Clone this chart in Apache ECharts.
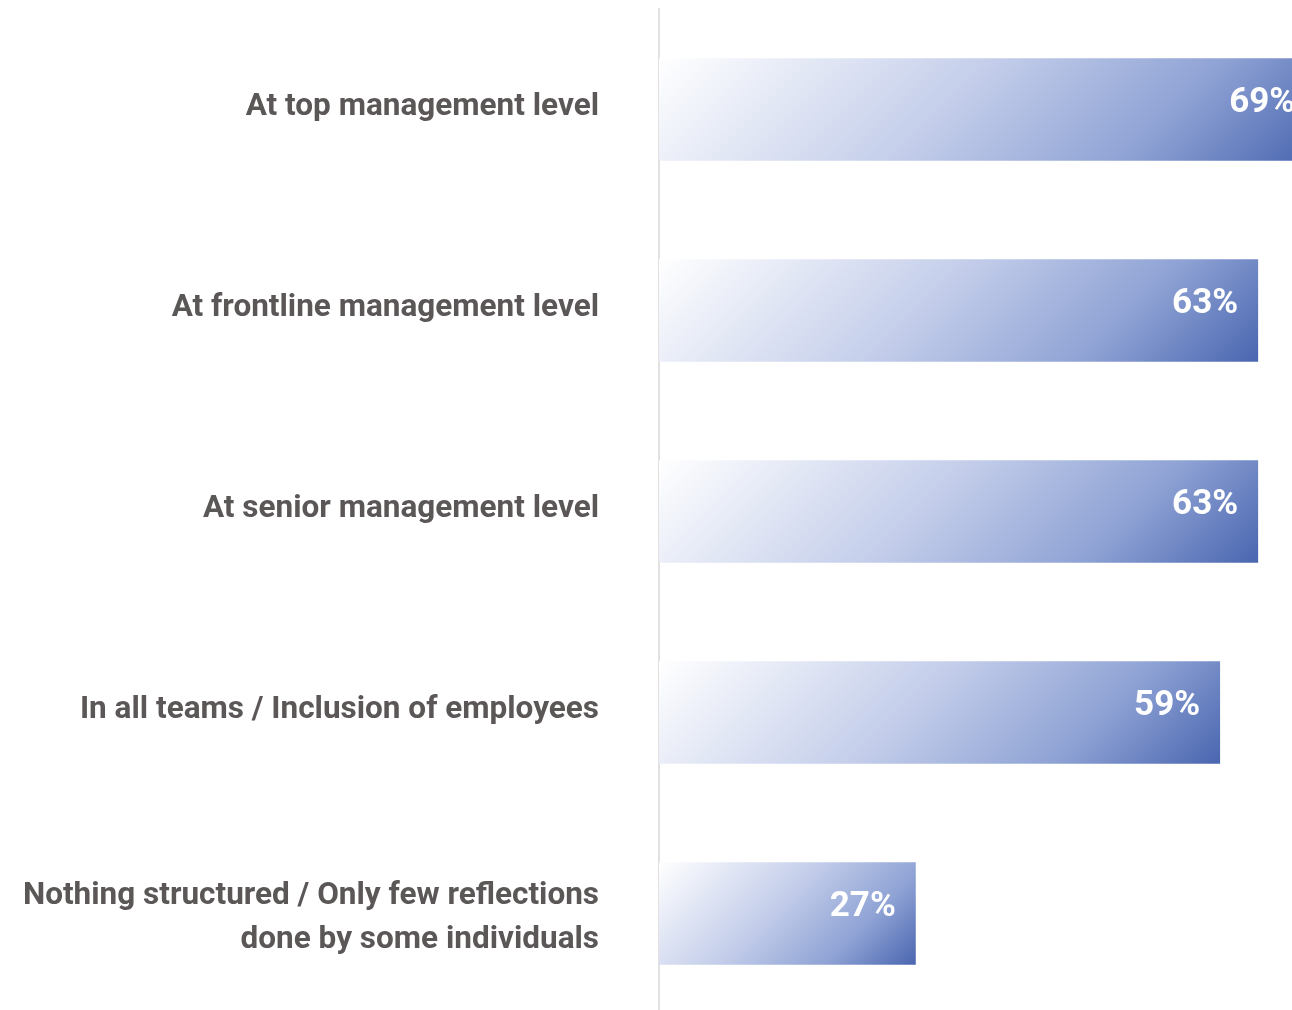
<!DOCTYPE html>
<html>
<head>
<meta charset="utf-8">
<style>
  html, body { margin: 0; padding: 0; background: #ffffff; overflow: hidden; }
  #chart { width: 1700px; height: 1020px; }
</style>
<script src="https://cdn.jsdelivr.net/npm/echarts@6/dist/echarts.min.js"></script>
</head>
<body>
<div id="chart"></div>
<script>
// Where structured reflection takes place (share of respondents, %)
var categories = [
  'At top management level',
  'At frontline management level',
  'At senior management level',
  'In all teams / Inclusion of employees',
  'Nothing structured / Only few reflections\ndone by some individuals'
];
var shares = [69, 63, 63, 59, 27];

var LABEL_FONT = 'Roboto, "Liberation Sans", sans-serif';

var chart = echarts.init(document.getElementById('chart'), null, { renderer: 'canvas' });

// Diagonal fill running at 45 degrees in screen space, light top-left to deep blue bottom-right
function barFill(w, h) {
  var d = (w + h) / 2;
  return new echarts.graphic.LinearGradient(0, 0, d / w, d / h, [
    { offset: 0, color: '#ffffff' },
    { offset: 0.45, color: '#c3cdea' },
    { offset: 0.75, color: '#8ea2d4' },
    { offset: 1, color: '#4a66b0' }
  ]);
}

function renderBar(params, api) {
  var idx = api.value(0);
  var val = api.value(1);
  var start = api.coord([0, idx]);
  var end = api.coord([val, idx]);
  var band = api.size([0, 1])[1];
  var h = band * 0.51;
  var w = end[0] - start[0];
  var y = start[1] - h / 2;
  return {
    type: 'group',
    children: [
      {
        type: 'rect',
        shape: { x: start[0], y: y, width: w, height: h },
        style: { fill: barFill(w, h) }
      },
      {
        type: 'text',
        x: end[0] - 20,
        y: start[1] - 6,
        style: {
          text: val + '%',
          fill: '#ffffff',
          font: 'bold 35px ' + LABEL_FONT,
          align: 'right',
          verticalAlign: 'middle'
        }
      }
    ]
  };
}

// Single-line names sit a touch above the bar centre; the two-line name a touch below
function categoryLabel(name) {
  var lines = name.split('\n');
  if (lines.length === 1) {
    return '{one|' + name + '}';
  }
  return lines.map(function (line) { return '{multi|' + line + '}'; }).join('\n');
}

var richBase = {
  color: '#5b5757',
  fontSize: 31.5,
  fontWeight: 'bold',
  fontFamily: LABEL_FONT,
  lineHeight: 44,
  align: 'right'
};

chart.setOption({
  animation: false,
  grid: { left: 659, top: 9, width: 951, height: 1005, containLabel: false },
  xAxis: {
    type: 'value',
    min: 0,
    max: 100,
    show: false
  },
  yAxis: {
    type: 'category',
    data: categories,
    inverse: true,
    axisLine: { show: true, lineStyle: { color: '#e3e1e0', width: 2 } },
    axisTick: { show: false },
    splitLine: { show: false },
    axisLabel: {
      margin: 60,
      color: '#5b5757',
      fontSize: 31.5,
      fontWeight: 'bold',
      fontFamily: LABEL_FONT,
      lineHeight: 44,
      align: 'right',
      formatter: categoryLabel,
      rich: {
        one: Object.assign({}, richBase, { padding: [0, 0, 4, 0] }),
        multi: Object.assign({}, richBase, { padding: [10, 0, 0, 0] })
      }
    }
  },
  series: [{
    type: 'custom',
    renderItem: renderBar,
    encode: { x: 1, y: 0 },
    data: shares.map(function (v, i) { return [i, v]; }),
    clip: false
  }]
});
</script>
</body>
</html>
